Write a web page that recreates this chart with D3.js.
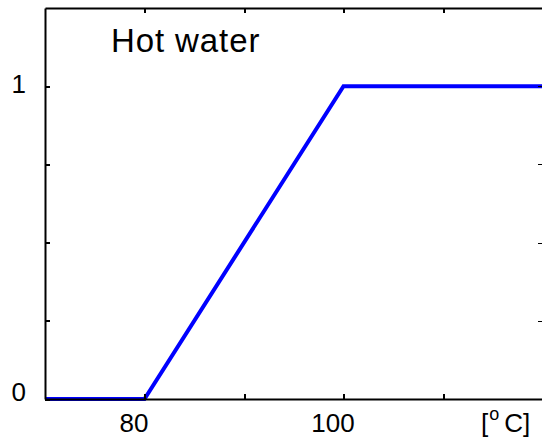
<!DOCTYPE html>
<html>
<head>
<meta charset="utf-8">
<script src="https://cdn.jsdelivr.net/npm/d3@7"></script>
<style>
  body { margin: 0; background: #fff; }
  text { font-family: Arial, "Liberation Sans", sans-serif; }
  .tick line { shape-rendering: crispEdges; }
</style>
</head>
<body>
<script>
// membership function for "Hot water"
const temps = [70, 80, 100, 120];
const membership = [0, 0, 1, 1];
const xTicks = [80, 90, 100, 110];
const xTickLabels = {80: "80", 100: "100"};
const yTicks = [0, 0.25, 0.5, 0.75, 1];
const yTickLabels = {0: "0", 1: "1"};
const title = "Hot water";

function main(){
    const canvasWidth = 542;
    const canvasHeight = 437;
    const left = 45, top = 8, right = 542.5, bottom = 399;

    const svg = d3.select("body").append("svg")
        .attr("width", canvasWidth)
        .attr("height", canvasHeight);

    const xScale = d3.scaleLinear().domain([70, 120]).range([left, right]);
    const yScale = d3.scaleLinear().domain([0, 1.25]).range([bottom, top]);

    const points = temps.map((t, i) => [t, membership[i]]);

    // the curve
    svg.append("path")
        .datum(points)
        .attr("fill", "none")
        .attr("stroke", "#0000ff")
        .attr("stroke-width", 4)
        .attr("stroke-linejoin", "miter")
        .attr("d", d3.line().x(d => xScale(d[0])).y(d => yScale(d[1])));

    // bottom axis, ticks pointing inward
    const xAxis = svg.append("g")
        .attr("transform", "translate(0," + bottom + ")")
        .call(d3.axisBottom(xScale).tickValues(xTicks).tickSizeInner(-5).tickSizeOuter(0)
            .tickFormat(d => xTickLabels[d] || ""));
    xAxis.select(".domain").attr("stroke-width", 2);
    xAxis.selectAll(".tick line").attr("stroke-width", 2);
    xAxis.selectAll(".tick text")
        .attr("y", 33).attr("dy", 0).attr("dx", -11)
        .attr("font-size", "26px").attr("fill", "#000");

    // top ticks
    const xTop = svg.append("g")
        .attr("transform", "translate(0," + top + ")")
        .call(d3.axisTop(xScale).tickValues(xTicks).tickSizeInner(-5).tickSizeOuter(0).tickFormat(""));
    xTop.select(".domain").attr("stroke-width", 2);
    xTop.selectAll(".tick line").attr("stroke-width", 2);

    // left axis
    const yAxis = svg.append("g")
        .attr("transform", "translate(" + left + ",0)")
        .call(d3.axisLeft(yScale).tickValues(yTicks).tickSizeInner(-5).tickSizeOuter(0)
            .tickFormat(d => yTickLabels[d] || ""));
    yAxis.select(".domain").attr("stroke-width", 2);
    yAxis.selectAll(".tick line").attr("stroke-width", 2);
    yAxis.selectAll(".tick text")
        .attr("x", -19).attr("dy", d => d === 0 ? "0.05em" : "0.26em")
        .attr("font-size", "26px").attr("fill", "#000");

    // right edge
    const yRight = svg.append("g")
        .attr("transform", "translate(" + right + ",0)")
        .call(d3.axisRight(yScale).tickValues(yTicks).tickSizeInner(-5).tickSizeOuter(0).tickFormat(""));
    yRight.select(".domain").attr("stroke-width", 2);

    // unit label
    const unit = svg.append("text")
        .attr("x", 481)
        .attr("y", 432)
        .attr("font-size", "26px");
    unit.append("tspan").text("[");
    unit.append("tspan").attr("dx", 1).attr("dy", -12).attr("font-size", "18px").text("o");
    unit.append("tspan").attr("dx", 5).attr("dy", 12).text("C]");

    svg.append("text")
        .attr("x", 111)
        .attr("y", 52)
        .attr("font-size", "33px")
        .attr("letter-spacing", "0.9px")
        .text(title);
}
main();
</script>
</body>
</html>
